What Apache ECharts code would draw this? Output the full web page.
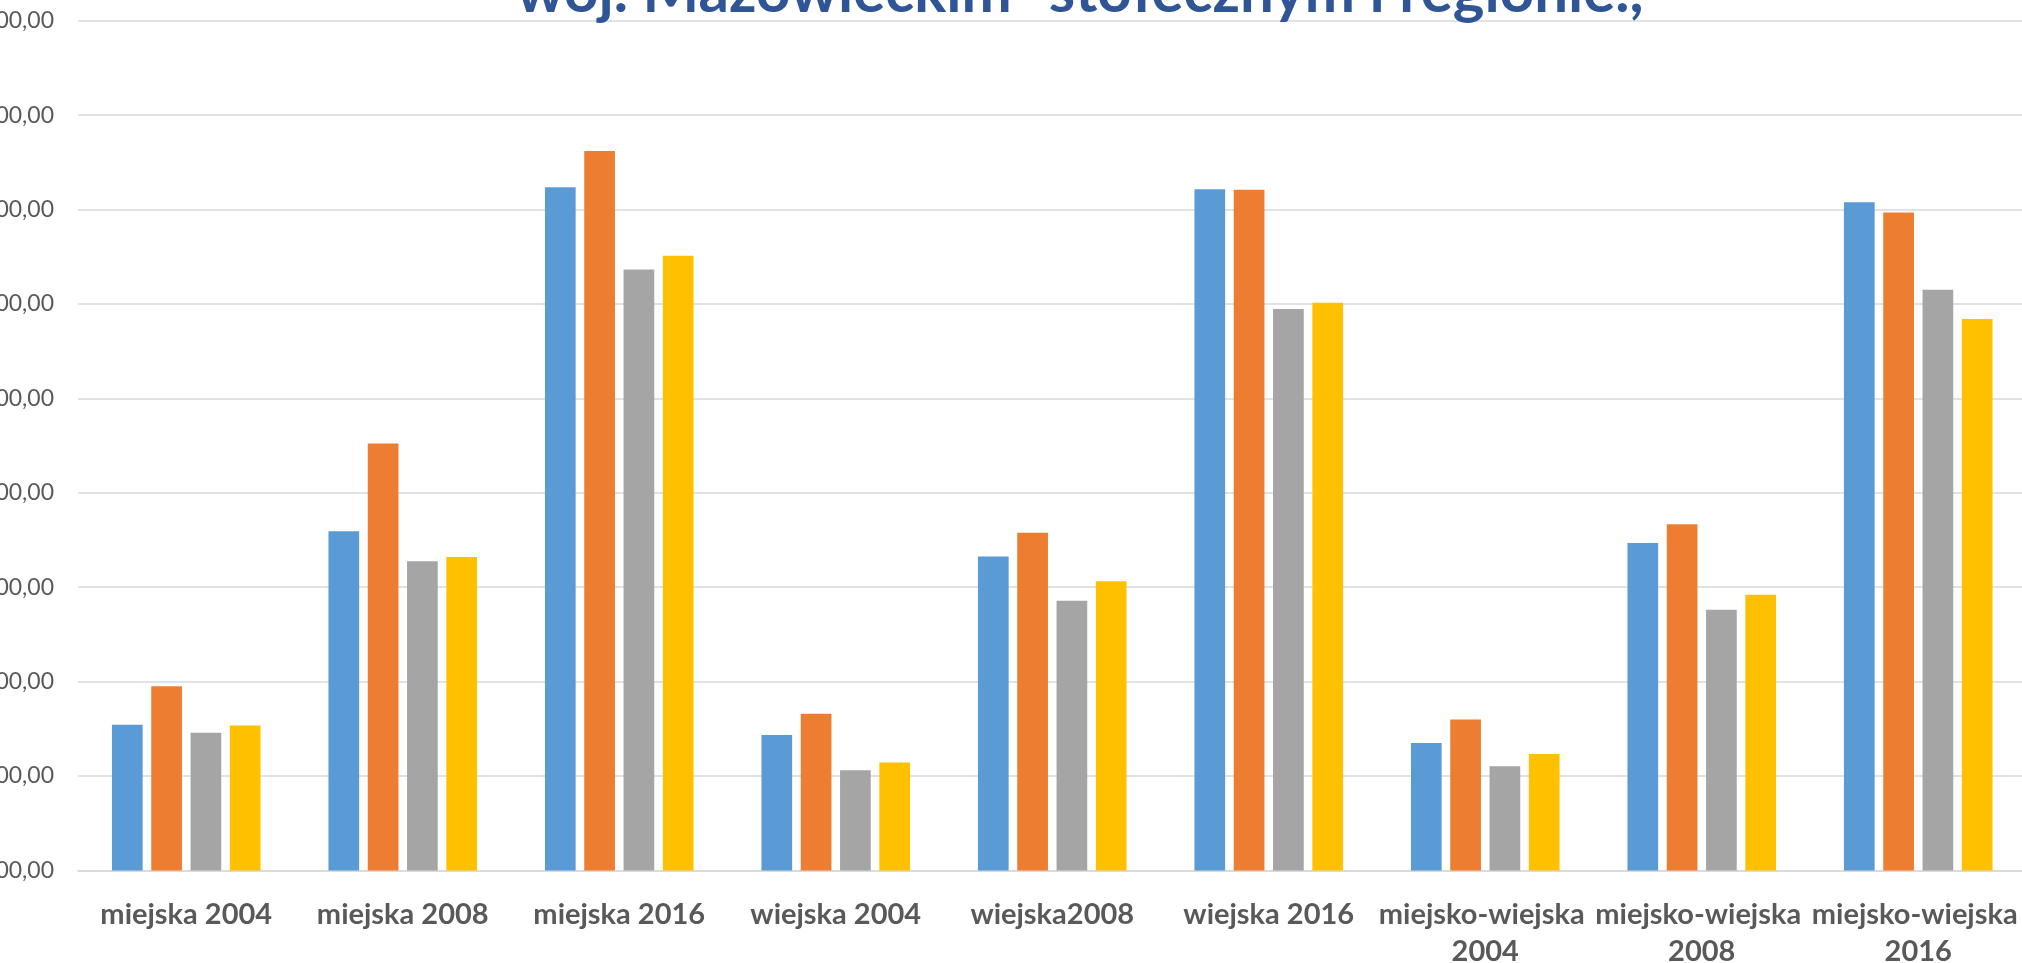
<!DOCTYPE html>
<html>
<head>
<meta charset="utf-8">
<script src="https://cdn.jsdelivr.net/npm/echarts@6/dist/echarts.min.js"></script>
<style>
  html, body { margin: 0; padding: 0; background: #ffffff; }
  #chart { width: 2022px; height: 963px; }
</style>
</head>
<body>
<div id="chart"></div>
<script>
const categories = ['miejska 2004', 'miejska 2008', 'miejska 2016', 'wiejska 2004', 'wiejska2008', 'wiejska 2016', 'miejsko-wiejska 2004', 'miejsko-wiejska 2008', 'miejsko-wiejska 2016'];
const seriesNames = ['Polska', 'woj. mazowieckie', 'region warszawski stołeczny', 'region mazowiecki regionalny'];
const valuesBlue   = [1771, 2797, 4618, 1717, 2663, 4608, 1675, 2734, 4539];
const valuesOrange = [1976, 3261, 4811, 1830, 2789, 4605, 1799, 2834, 4484];
const valuesGrey   = [1729, 2637, 4183, 1530, 2428, 3973, 1551, 2381, 4075];
const valuesYellow = [1768, 2660, 4255, 1572, 2531, 4007, 1617, 2460, 3920];
const yMin = 1000, yMax = 5500, yStep = 500;
const titleText = 'woj. Mazowieckim- stołecznym i regionie.,';

const colors = ['#5B9BD5', '#ED7D31', '#A5A5A5', '#FFC000'];
const allValues = [valuesBlue, valuesOrange, valuesGrey, valuesYellow];

function fmt(v) {
  const parts = v.toFixed(2).split('.');
  parts[0] = parts[0].replace(/\B(?=(\d{3})+(?!\d))/g, ' ');
  return parts[0] + ',' + parts[1];
}

const chart = echarts.init(document.getElementById('chart'));
chart.setOption({
  backgroundColor: '#ffffff',
  animation: false,
  grid: { left: 78, right: -4.5, top: 20.8, bottom: 92.6, containLabel: false, outerBoundsMode: 'none' },
  graphic: [{
    type: 'text', x: 1080, y: 23, z: 100,
    style: { text: titleText, fill: '#2F5597', font: 'bold 60px Lato', textAlign: 'center', textVerticalAlign: 'bottom' }
  }],
  xAxis: {
    type: 'category', data: categories,
    axisLine: { lineStyle: { color: '#D9D9D9', width: 1.5 } },
    axisTick: { show: false },
    axisLabel: { interval: 0, color: '#595959', fontFamily: 'Lato', fontWeight: 'bold', fontSize: 29, lineHeight: 37, margin: 26, width: 240, overflow: 'break' }
  },
  yAxis: {
    type: 'value', min: yMin, max: yMax, interval: yStep,
    axisLine: { show: false }, axisTick: { show: false },
    splitLine: { lineStyle: { color: '#D9D9D9', width: 1.5 } },
    axisLabel: { color: '#595959', fontFamily: 'Lato', fontSize: 23, margin: 24, formatter: fmt }
  },
  series: allValues.map((vals, i) => ({
    name: seriesNames[i], type: 'bar', data: vals,
    barWidth: 30.7, barGap: '28%',
    itemStyle: { color: colors[i] }
  }))
});
</script>
</body>
</html>
